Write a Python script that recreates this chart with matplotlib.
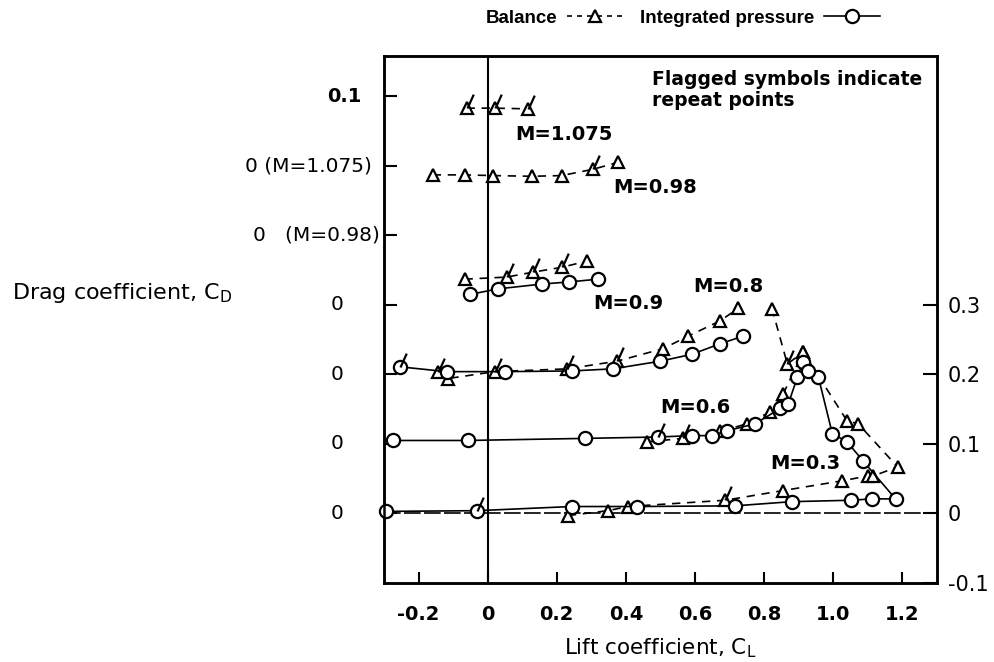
import numpy as np
import matplotlib.pyplot as plt
from matplotlib.lines import Line2D
from matplotlib.path import Path
from matplotlib.transforms import blended_transform_factory

plt.rcParams['font.family'] = ['DejaVu Sans']
plt.rcParams['mathtext.default'] = 'regular'

# zero of CD for each Mach number on the shared (stacked) scale
off_1075, off_098, off_09, off_08, off_06, off_03 = 0.5, 0.4, 0.3, 0.2, 0.1, 0.0

# M = 1.075, balance only
cl_1075_bal = [-0.061, 0.02, 0.116]
cd_1075_bal = [0.083, 0.083, 0.082]
# M = 0.98, balance only
cl_098_bal = [-0.159, -0.067, 0.014, 0.128, 0.214, 0.304, 0.377]
cd_098_bal = [0.087, 0.087, 0.086, 0.085, 0.086, 0.095, 0.105]
# M = 0.9
cl_09_bal = [-0.067, 0.055, 0.130, 0.214, 0.287]
cd_09_bal = [0.037, 0.040, 0.047, 0.054, 0.063]
cl_09_prs = [-0.052, 0.029, 0.157, 0.235, 0.319]
cd_09_prs = [0.015, 0.023, 0.030, 0.033, 0.037]
# M = 0.8
cl_08_bal = [-0.145, -0.116, 0.02, 0.229, 0.374, 0.507, 0.58, 0.672, 0.725]
cd_08_bal = [0.004, -0.006, 0.004, 0.008, 0.019, 0.037, 0.055, 0.077, 0.095]
cl_08_prs = [-0.255, -0.119, 0.049, 0.243, 0.362, 0.499, 0.591, 0.672, 0.739]
cd_08_prs = [0.011, 0.004, 0.004, 0.005, 0.008, 0.019, 0.029, 0.044, 0.055]
# M = 0.6
cl_06_bal = [0.461, 0.565, 0.672, 0.75, 0.817, 0.855, 0.913]
cd_06_bal = [0.003, 0.008, 0.018, 0.029, 0.046, 0.072, 0.132]
cl_06_prs = [-0.275, -0.058, 0.281, 0.493, 0.591, 0.649, 0.693, 0.774, 0.846, 0.87, 0.896, 0.913]
cd_06_prs = [0.005, 0.005, 0.008, 0.010, 0.012, 0.012, 0.019, 0.029, 0.051, 0.058, 0.096, 0.118]
# M = 0.3 (right-hand scale), including post-stall points
cl_03_bal = [0.232, 0.348, 0.405, 0.687, 0.855, 1.026, 1.10, 1.116, 1.186, 1.072, 1.04, 0.913, 0.867, 0.823]
cd_03_bal = [-0.003, 0.004, 0.010, 0.019, 0.033, 0.047, 0.054, 0.054, 0.067, 0.129, 0.133, 0.232, 0.215, 0.294]
cl_03_prs = [-0.295, -0.032, 0.243, 0.432, 0.716, 0.88, 1.05, 1.113, 1.18, 1.087, 1.04, 0.997, 0.957, 0.928]
cd_03_prs = [0.003, 0.004, 0.010, 0.010, 0.011, 0.017, 0.019, 0.021, 0.021, 0.075, 0.103, 0.115, 0.196, 0.205]

# repeat points (flagged): CL, CD and the offset of their Mach number
flag_cl = [-0.061, 0.02, 0.116, 0.304, 0.055, 0.130, 0.214, -0.145, 0.02, 0.229, 0.374,
           0.493, 0.565, -0.032, 0.687, 0.867, -0.255]
flag_cd = [0.083, 0.083, 0.082, 0.095, 0.040, 0.047, 0.054, 0.004, 0.004, 0.008, 0.019,
           0.010, 0.008, 0.004, 0.019, 0.215, 0.011]
flag_off = [0.5, 0.5, 0.5, 0.4, 0.3, 0.3, 0.3, 0.2, 0.2, 0.2, 0.2,
            0.1, 0.1, 0.0, 0.0, 0.0, 0.2]

x_ticks = [-0.2, 0, 0.2, 0.4, 0.6, 0.8, 1.0, 1.2]
x_ticklabels = ['-0.2', '0', '0.2', '0.4', '0.6', '0.8', '1.0', '1.2']
right_ticks = [0.3, 0.2, 0.1, 0.0, -0.1]
right_ticklabels = ['0.3', '0.2', '0.1', '0', '-0.1']
left_ticks = [0.6, 0.5, 0.4, 0.3, 0.2, 0.1, 0.0]

fig = plt.figure(figsize=(9.94, 6.62), dpi=100)
ax = fig.add_axes([384 / 994, 1 - 583 / 662, 553 / 994, 527 / 662])
ax.set_xlim(-0.3, 1.3)
ax.set_ylim(-0.1, 0.658)

bal_style = dict(color='k', lw=1.2, ls=(0, (5, 4)), marker='^', ms=8, mfc='white',
                 mec='k', mew=1.6, zorder=3)
prs_style = dict(color='k', lw=1.2, ls='-', marker='o', ms=9.5, mfc='white',
                 mec='k', mew=1.6, zorder=4)


def shift(vals, off):
    return np.array(vals) + off


ax.plot(cl_1075_bal, shift(cd_1075_bal, off_1075), **bal_style)
ax.plot(cl_098_bal, shift(cd_098_bal, off_098), **bal_style)
ax.plot(cl_09_bal, shift(cd_09_bal, off_09), **bal_style)
ax.plot(cl_09_prs, shift(cd_09_prs, off_09), **prs_style)
ax.plot(cl_08_bal, shift(cd_08_bal, off_08), **bal_style)
ax.plot(cl_08_prs, shift(cd_08_prs, off_08), **prs_style)
ax.plot(cl_06_bal, shift(cd_06_bal, off_06), **bal_style)
ax.plot(cl_06_prs, shift(cd_06_prs, off_06), **prs_style)
ax.plot(cl_03_bal, shift(cd_03_bal, off_03), **bal_style)
ax.plot(cl_03_prs, shift(cd_03_prs, off_03), clip_on=False, **prs_style)

flag = Path([(0, 0), (0.45, 1.0)], [Path.MOVETO, Path.LINETO])
ax.plot(flag_cl, np.array(flag_cd) + np.array(flag_off), ls='none', marker=flag, ms=20,
        mfc='none', mec='k', mew=1.6, zorder=5)

# reference lines
ax.axvline(0, color='k', lw=1.5, zorder=1)
ax.axhline(0, color='k', lw=1.2, ls=(0, (10, 2)), zorder=1)

for s in ax.spines.values():
    s.set_linewidth(1.8)

ax.set_xticks(x_ticks)
ax.set_xticklabels(x_ticklabels, fontsize=14, fontweight='bold')
ax.tick_params(axis='x', direction='in', length=8, width=1.5, pad=16)
ax.set_yticks(left_ticks)
ax.set_yticklabels([])
ax.tick_params(axis='y', direction='in', length=9, width=1.5)

axr = ax.twinx()
axr.set_ylim(ax.get_ylim())
axr.set_yticks(right_ticks)
axr.set_yticklabels(right_ticklabels, fontsize=15)
axr.tick_params(axis='y', direction='in', length=10, width=1.5, pad=8)
for s in axr.spines.values():
    s.set_linewidth(1.8)

trans = blended_transform_factory(ax.transAxes, ax.transData)
ax.text(-0.04, 0.6, '0.1', transform=trans, ha='right', va='center', fontsize=14, fontweight='bold')
ax.text(-0.022, 0.5, '0 (M=1.075)', transform=trans, ha='right', va='center', fontsize=14.5)
ax.text(-0.007, 0.4, '0   (M=0.98)', transform=trans, ha='right', va='center', fontsize=14.5)
for yv in [0.3, 0.2, 0.1, 0.0]:
    ax.text(-0.085, yv, '0', transform=trans, ha='center', va='center', fontsize=14.5)

fig.text(0.012, 1 - 293 / 662, 'Drag coefficient, C$_D$', ha='left', va='center', fontsize=16)
ax.set_xlabel('Lift coefficient, C$_L$', fontsize=15.5)
ax.xaxis.set_label_coords(0.5, -0.102)

lab = dict(fontsize=14, fontweight='bold', ha='left', va='center')
ax.text(0.08, 0.545, 'M=1.075', **lab)
ax.text(0.362, 0.469, 'M=0.98', **lab)
ax.text(0.304, 0.302, 'M=0.9', **lab)
ax.text(0.594, 0.327, 'M=0.8', **lab)
ax.text(0.499, 0.153, 'M=0.6', **lab)
ax.text(0.817, 0.072, 'M=0.3', **lab)
ax.text(0.475, 0.609, 'Flagged symbols indicate\nrepeat points', fontsize=13.5,
        fontweight='bold', ha='left', va='center', linespacing=1.1)

handles = [Line2D([], [], color='k', lw=1.2, ls=(0, (3, 3)), marker='^', ms=8,
                  mfc='white', mec='k', mew=1.6),
           Line2D([], [], color='k', lw=1.2, ls='-', marker='o', ms=9.5,
                  mfc='white', mec='k', mew=1.6)]
fig.legend(handles, ['Balance', 'Integrated pressure'], loc='center',
           bbox_to_anchor=(683 / 994, 1 - 18 / 662), ncol=2, frameon=False,
           markerfirst=False, prop={'family': 'Liberation Sans', 'weight': 'bold', 'size': 13.5},
           handlelength=3.0, handletextpad=0.5, columnspacing=0.9)

fig.savefig('out.png', dpi=100)
